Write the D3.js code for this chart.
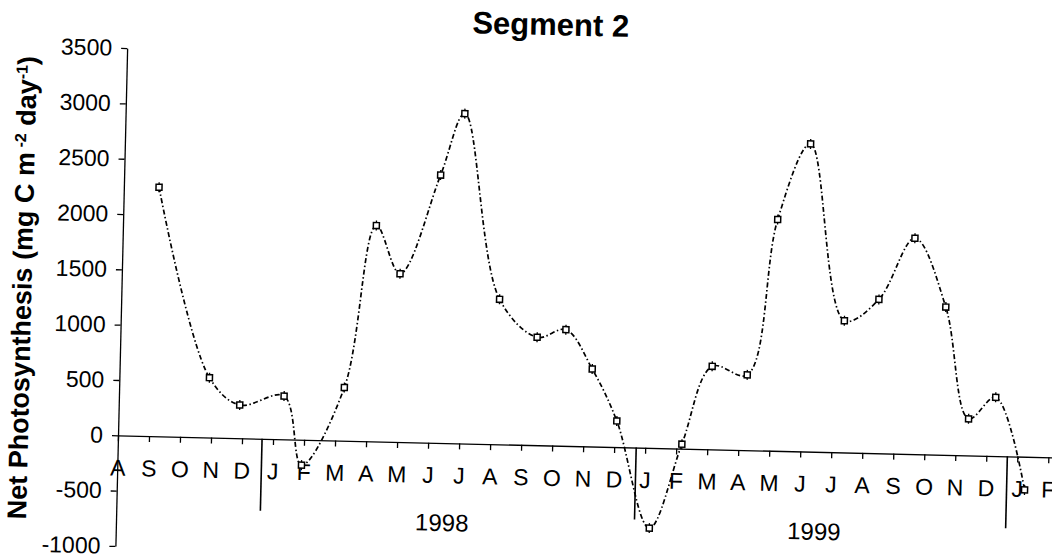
<!DOCTYPE html>
<html>
<head>
<meta charset="utf-8">
<script src="https://cdn.jsdelivr.net/npm/d3@7"></script>
<style>
  html, body { margin: 0; padding: 0; background: #fff; }
  svg { display: block; }
  text { font-family: "Liberation Sans", Arial, Helvetica, sans-serif; fill: #000; }
</style>
</head>
<body>
<svg id="chart" width="1052" height="555"></svg>
<script>
// Sampling dates and net photosynthesis (mg C m-2 day-1), Segment 2
const sampleDates = [
  "1997-09-05", "1997-10-29", "1997-11-28", "1998-01-11", "1998-01-30",
  "1998-03-09", "1998-04-06", "1998-04-30", "1998-06-07", "1998-06-29",
  "1998-08-07", "1998-09-14", "1998-10-12", "1998-11-08", "1998-12-03",
  "1999-01-07", "1999-02-06", "1999-03-04", "1999-04-08", "1999-05-04",
  "1999-06-04", "1999-07-11", "1999-08-14", "1999-09-17", "1999-10-19",
  "1999-11-13", "1999-12-09", "2000-01-09"
];
const netPhotosynthesis = [
  2250, 540, 300, 390, -230,
  480, 1950, 1520, 2420, 2980,
  1310, 975, 1050, 700, 236,
  -725, 40, 750, 680, 2090,
  2780, 1190, 1390, 1950, 1335,
  330, 530, -300
];

// Month tick labels, Aug 1997 through Feb 2000
const monthLabels = ["A","S","O","N","D",
  "J","F","M","A","M","J","J","A","S","O","N","D",
  "J","F","M","A","M","J","J","A","S","O","N","D",
  "J","F"];
const yearLabels = ["1998", "1999"];
const yearBreaks = ["1997-12-21", "1998-12-23", "1999-12-22"];
const yTicks = [-1000, -500, 0, 500, 1000, 1500, 2000, 2500, 3000, 3500];

// Months elapsed since 1 Aug 1997, each month given equal width
function monthIndex(s) {
  const [yy, mm, dd] = s.split("-").map(Number);
  const daysInMonth = new Date(yy, mm, 0).getDate();
  return (yy - 1997) * 12 + (mm - 8) + (dd - 1) / daysInMonth;
}

const data = sampleDates.map((d, i) => ({ t: monthIndex(d), v: netPhotosynthesis[i] }));

const svg = d3.select("#chart");
const g = svg.append("g").attr("transform", "rotate(1.35, 118, 436)");

const x = d3.scaleLinear().domain([0, 31]).range([118, 118 + 31 * 31.02]);
const y = d3.scaleLinear().domain([-1000, 3500]).range([546, 48]);

// Y axis
const yAxis = g.append("g")
  .attr("transform", `translate(${x(0)},0)`)
  .call(d3.axisLeft(y)
    .tickValues(yTicks)
    .tickFormat(d => String(d))
    .tickSize(6).tickSizeOuter(0).tickPadding(9));
yAxis.selectAll("text").style("font-size", "23px");

// X axis along the zero line
const xAxis = g.append("g")
  .attr("transform", `translate(0,${y(0)})`)
  .call(d3.axisBottom(x)
    .tickValues(d3.range(monthLabels.length))
    .tickFormat(i => monthLabels[i])
    .tickSize(6).tickSizeOuter(0).tickPadding(18));
xAxis.selectAll("text").style("font-size", "23px");
svg.selectAll(".domain, .tick line").attr("stroke", "#000").attr("stroke-width", 1.3);
svg.selectAll(".tick text").attr("fill", "#000");

// Year separators below the axis
g.selectAll("line.year-break")
  .data(yearBreaks)
  .join("line")
  .attr("class", "year-break")
  .attr("x1", d => x(monthIndex(d)))
  .attr("x2", d => x(monthIndex(d)))
  .attr("y1", y(0))
  .attr("y2", y(0) + 72)
  .attr("stroke", "#000")
  .attr("stroke-width", 1.6);

// Year labels centred on Jan..Dec of each year
g.selectAll("text.year")
  .data(yearLabels)
  .join("text")
  .attr("class", "year")
  .attr("x", (d, i) => x(5 + 12 * i + 5.5))
  .attr("y", y(0) + 88)
  .attr("text-anchor", "middle")
  .style("font-size", "24px")
  .text(d => d);

// Smoothed dash-dot line through the samples
const line = d3.line()
  .x(d => x(d.t))
  .y(d => y(d.v))
  .curve(d3.curveCatmullRom.alpha(0.5));

g.append("path")
  .datum(data)
  .attr("d", line)
  .attr("fill", "none")
  .attr("stroke", "#000")
  .attr("stroke-width", 1.7)
  .attr("stroke-dasharray", "5,2.5,1.5,2.5");

// Point markers
const marks = g.selectAll("g.mark")
  .data(data)
  .join("g")
  .attr("class", "mark")
  .attr("transform", d => `translate(${x(d.t)},${y(d.v)})`);
marks.append("line")
  .attr("x1", 0).attr("x2", 0).attr("y1", -5).attr("y2", 5)
  .attr("stroke", "#000").attr("stroke-width", 1.3);
marks.append("rect")
  .attr("x", -3).attr("y", -3).attr("width", 6).attr("height", 6)
  .attr("fill", "#fff").attr("stroke", "#000").attr("stroke-width", 1.5);

// Title
g.append("text")
  .attr("x", 541)
  .attr("y", 25)
  .attr("text-anchor", "middle")
  .style("font-size", "31px")
  .style("font-weight", "bold")
  .text("Segment 2");

// Y axis title with superscripts
const yTitle = g.append("text")
  .attr("transform", "translate(28,290) rotate(-90)")
  .attr("text-anchor", "middle")
  .style("font-size", "27px")
  .style("font-weight", "bold");
yTitle.append("tspan").text("Net Photosynthesis (mg C m");
yTitle.append("tspan").attr("dy", -9).style("font-size", "16px").text(" -2");
yTitle.append("tspan").attr("dy", 9).text(" day");
yTitle.append("tspan").attr("dy", -9).style("font-size", "16px").text("-1");
yTitle.append("tspan").attr("dy", 9).text(")");
</script>
</body>
</html>
